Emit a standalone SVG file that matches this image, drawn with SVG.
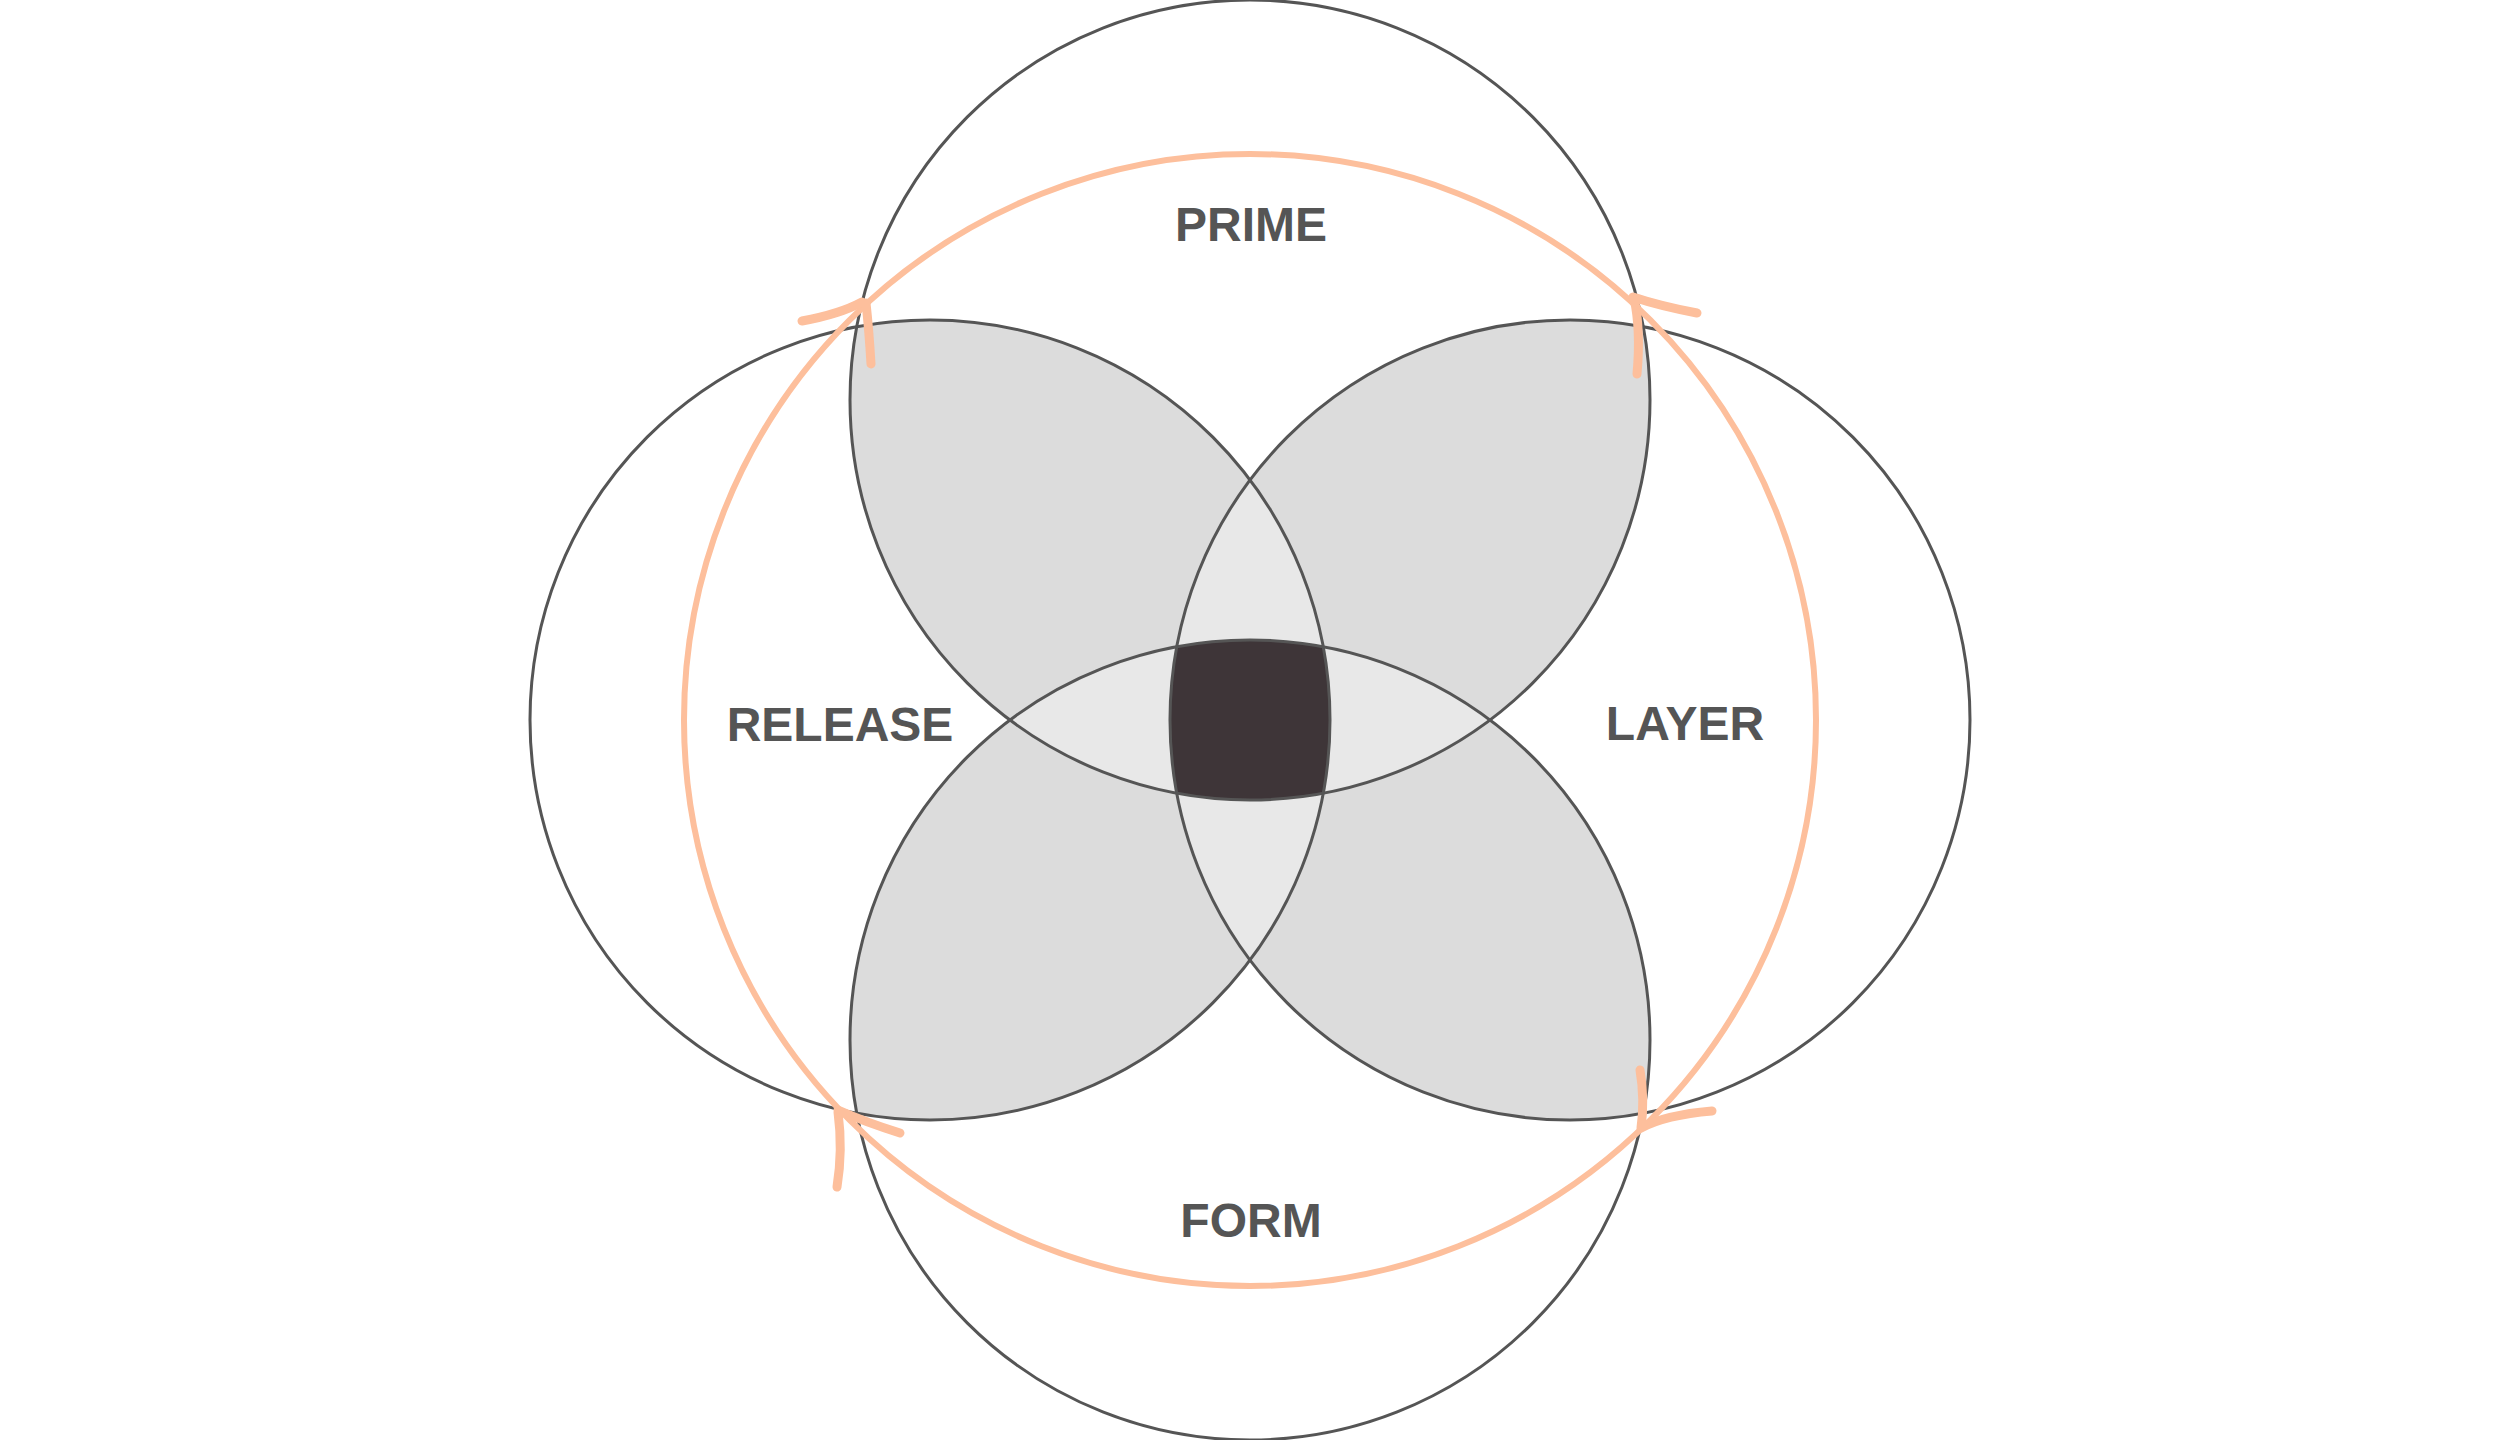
<svg xmlns="http://www.w3.org/2000/svg" width="2500" height="1440" viewBox="0 0 2500 1440">
<style>
.ring{fill:none;stroke:#555555;stroke-width:3}
.f2{fill:#dcdcdc}
.f3{fill:#e8e8e8}
.f4{fill:#3e3538}
.cycle{fill:none;stroke:#fdbf9c;stroke-width:6}
.arm{fill:none;stroke:#fdbf9c;stroke-width:9;stroke-linecap:round;stroke-linejoin:round}
.lbl{font-family:"Liberation Sans",Arial,sans-serif;font-weight:bold;font-size:48px;fill:#555555;text-anchor:middle}
</style>
<defs>
<clipPath id="cT"><circle cx="1250" cy="400" r="400"/></clipPath>
<clipPath id="cB"><circle cx="1250" cy="1040" r="400"/></clipPath>
<clipPath id="cL"><circle cx="930" cy="720" r="400"/></clipPath>
<clipPath id="cR"><circle cx="1570" cy="720" r="400"/></clipPath>
</defs>
<rect width="2500" height="1440" fill="#ffffff"/>
<g id="shading">
<g clip-path="url(#cT)"><circle class="f2" cx="930" cy="720" r="400"/><circle class="f2" cx="1570" cy="720" r="400"/><circle class="f2" cx="1250" cy="1040" r="400"/></g>
<g clip-path="url(#cB)"><circle class="f2" cx="930" cy="720" r="400"/><circle class="f2" cx="1570" cy="720" r="400"/></g>
<g clip-path="url(#cL)"><circle class="f2" cx="1570" cy="720" r="400"/></g>
<g clip-path="url(#cT)"><g clip-path="url(#cL)"><circle class="f3" cx="1570" cy="720" r="400"/><circle class="f3" cx="1250" cy="1040" r="400"/></g></g>
<g clip-path="url(#cB)"><g clip-path="url(#cR)"><circle class="f3" cx="930" cy="720" r="400"/><circle class="f3" cx="1250" cy="400" r="400"/></g></g>
<g clip-path="url(#cT)"><g clip-path="url(#cL)"><g clip-path="url(#cR)"><circle class="f4" cx="1250" cy="1040" r="400"/></g></g></g>
</g>
<g id="node-prime"><circle class="ring" cx="1250" cy="400" r="400"/><text class="lbl" x="1251" y="241">PRIME</text></g>
<g id="node-release"><circle class="ring" cx="930" cy="720" r="400"/><text class="lbl" x="840" y="741">RELEASE</text></g>
<g id="node-layer"><circle class="ring" cx="1570" cy="720" r="400"/><text class="lbl" x="1685" y="740">LAYER</text></g>
<g id="node-form"><circle class="ring" cx="1250" cy="1040" r="400"/><text class="lbl" x="1251" y="1237">FORM</text></g>
<g id="connectors">
<circle class="cycle" cx="1250" cy="720" r="566"/>
<path class="arm" d="M862,302 Q840,314 802,321 M866,303 Q869,330 871,364"/>
<path class="arm" d="M1633,297 Q1660,306 1697,313 M1634,298 Q1641,330 1637,374"/>
<path class="arm" d="M1641,1128 Q1665,1115 1712,1111 M1641,1128 Q1645,1100 1640,1070"/>
<path class="arm" d="M838,1110 Q865,1122 900,1133 M838,1112 Q843,1150 837,1187"/>
</g>
</svg>
